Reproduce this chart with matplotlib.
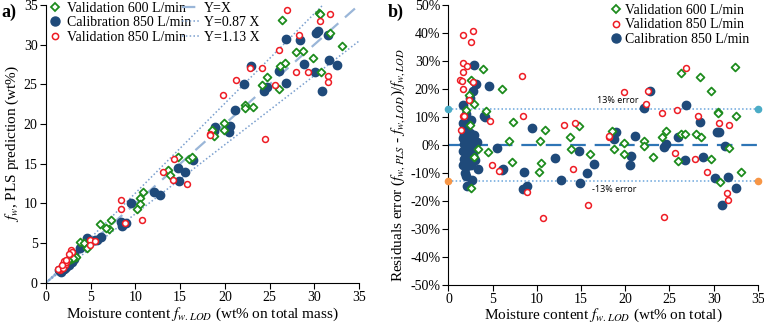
import matplotlib
matplotlib.use("Agg")
import matplotlib.pyplot as plt
from matplotlib.lines import Line2D
import matplotlib.ticker as mticker

plt.rcParams['font.family'] = ['Liberation Serif', 'DejaVu Serif']
plt.rcParams['mathtext.fontset'] = 'stix'

# ----- colours -----
GREEN = '#1e8c1e'
BLUE = '#1f4a7a'
RED = '#ee1c24'
LINE_A = '#9ab6d8'
DOT_A = '#7a9fce'
ZERO_B = '#2e75b6'
DOT_B = '#6aa5dc'
CYAN = '#4bacc6'
ORANGE = '#f79646'

# ----- panel a: predicted vs LOD moisture (wt%) -----
green_a_x = [26.4, 30.5, 30.6, 31.7, 33.1, 28.0, 28.7, 29.8, 26.7, 26.2, 30.8, 24.7, 24.1, 26.1,
             22.2, 22.2, 23.2, 19.9, 19.9, 18.8, 18.6, 14.8, 16.0, 16.3, 13.7, 13.9, 10.9, 10.5,
             10.5, 10.2, 7.3, 7.1, 6.05, 6.7, 3.8, 4.3, 4.6, 3.4, 2.8, 3.0, 2.5, 2.2]
green_a_y = [33.1, 34.0, 33.8, 31.5, 29.8, 29.1, 29.2, 28.3, 27.7, 27.3, 26.6, 25.9, 24.9, 24.4,
             22.4, 22.0, 22.2, 20.1, 19.3, 18.5, 19.2, 15.9, 15.6, 15.9, 14.2, 13.6, 11.5, 10.7,
             9.9, 9.3, 7.9, 6.8, 7.4, 6.9, 5.1, 5.0, 4.4, 3.3, 3.0, 3.2, 2.9, 2.5]

blue_a_x = [30.4, 30.2, 31.5, 26.8, 28.4, 28.9, 31.6, 32.5, 30.1, 26.0, 22.9, 22.1, 26.8, 24.7,
            24.4, 30.9, 21.1, 18.9, 18.75, 20.6, 20.5, 16.4, 14.8, 15.6, 14.9, 12.1, 12.8, 9.5,
            8.4, 9.0, 8.5, 6.2, 4.6, 5.5, 5.7, 3.8, 4.0,
            1.6, 1.8, 2.0, 2.2, 2.4, 2.6, 2.8, 3.0, 2.5, 2.1, 1.9, 2.3, 2.7, 3.2, 2.9, 1.7, 2.0,
            2.6, 3.1, 1.5]
blue_a_y = [31.7, 31.5, 31.2, 30.7, 30.6, 27.6, 28.0, 27.4, 26.6, 26.7, 27.3, 25.0, 25.2, 24.7,
            24.1, 24.2, 21.8, 19.6, 19.1, 19.8, 19.0, 15.5, 14.5, 14.0, 12.8, 11.5, 11.1, 10.1,
            7.7, 7.6, 7.2, 5.8, 5.6, 5.4, 5.4, 4.4, 4.6,
            1.5, 1.6, 1.8, 2.0, 2.3, 2.7, 3.2, 3.5, 2.4, 1.9, 1.7, 2.2, 3.0, 3.6, 2.6, 1.4, 2.1,
            2.2, 3.0, 1.6]

red_a_x = [26.9, 31.7, 30.6, 28.3, 26.0, 27.9, 29.3, 31.5, 31.5, 22.8, 24.2, 21.2, 25.6, 19.8,
           24.5, 18.3, 18.3, 14.3, 13.1, 14.2, 15.8, 8.4, 8.4, 10.7, 8.9, 4.9, 4.9, 5.5,
           1.6, 1.8, 1.9, 2.0, 1.7, 1.5, 2.8, 2.7, 2.9, 2.6, 2.1, 2.2, 1.4, 1.9, 2.3, 1.8]
red_a_y = [34.4, 33.9, 33.0, 31.2, 29.3, 26.5, 26.5, 26.0, 25.3, 27.1, 27.0, 25.5, 24.9, 23.6,
           18.1, 18.8, 18.6, 15.6, 14.0, 13.0, 12.5, 10.5, 9.3, 7.9, 7.5, 5.4, 4.8, 5.3,
           1.6, 2.0, 2.4, 2.8, 1.9, 1.8, 4.2, 3.7, 3.9, 3.6, 2.2, 2.6, 1.7, 1.9, 2.9, 2.3]

# ----- panel b: relative residuals (%) -----
green_b_x = [3.9, 2.6, 6.0, 4.3, 2.9, 2.3, 2.0, 2.45, 7.3, 6.8, 10.4, 10.9, 13.8, 14.8, 13.9, 16.0,
             3.3, 4.5, 7.2, 10.5, 10.2, 2.9, 2.6, 18.5, 18.7, 19.9, 19.9, 22.1, 22.1, 23.1, 24.1,
             24.6, 26.3, 26.7, 28.0, 28.6, 26.0, 29.7, 31.7, 30.7, 33.1, 26.3, 28.4, 32.4, 29.7,
             30.5, 30.5, 32.5]
green_b_y = [27.2, 23.1, 20.0, 12.1, 14.8, 17.8, 12.7, 7.3, 8.1, 1.4, 1.4, 5.5, 2.8, 6.7, -1.4, -3.1,
             -1.4, -2.4, -6.1, -6.6, -9.6, -4.4, -15.3, 4.9, -1.4, 0.8, -3.1, 1.4, -0.4, -4.2, 2.9,
             4.9, 4.0, 4.0, 4.1, 2.8, -5.8, -4.9, -1.0, -13.3, -9.7, 25.7, 24.2, 27.9, 19.2,
             11.9, 11.4, 10.5]

red_b_x = [1.7, 2.8, 2.6, 1.7, 2.1, 1.6, 1.3, 1.5, 1.6, 8.3, 8.4, 4.7, 1.6, 1.8, 2.3, 2.8, 1.4,
           4.9, 5.7, 8.9, 10.7, 13.1, 14.3, 18.2, 18.2, 19.8, 22.6, 22.3, 14.1, 15.8, 26.9, 24.2,
           25.9, 28.2, 30.6, 31.7, 25.6, 27.9, 29.2, 31.5, 31.6, 24.4]
red_b_y = [39.4, 40.9, 37.0, 29.3, 28.1, 26.0, 23.4, 23.0, 20.0, 24.8, 10.3, 8.5, 10.5, 10.4, 16.2,
           22.6, 5.3, -7.3, -9.3, -16.7, -26.2, 7.1, 7.7, 2.9, 3.4, 18.8, 19.2, 14.7, -8.7, -21.5,
           27.5, 11.5, 12.7, 10.5, 7.9, 7.2, -2.8, -4.9, -9.7, -17.1, -19.8, -25.6]

blue_b_x = [2.9, 3.1, 4.6, 2.8, 2.4, 1.7, 4.0, 4.1, 9.5, 5.5, 6.2, 6.0, 8.5, 8.4, 8.9, 2.7, 2.15,
            1.9, 2.0, 1.7, 2.1, 2.6, 2.8,
            1.7, 1.9, 2.1, 1.8, 2.4, 2.9, 1.6, 2.2, 2.7, 3.2, 1.8, 2.3, 2.6, 1.7, 2.0, 2.4, 1.8,
            2.2, 3.0, 2.5, 2.0, 3.3,
            18.9, 18.7, 21.1, 14.8, 12.1, 16.5, 15.7, 20.6, 20.5, 12.7, 14.9, 22.1, 22.8, 26.9,
            28.4, 30.4, 30.6, 26.0, 24.4, 24.6, 31.3, 26.7, 28.8, 30.2, 31.6, 32.5, 30.9]
blue_b_y = [28.7, 21.8, 21.0, 19.2, 16.8, 14.4, 10.3, 10.0, 6.1, -1.2, -8.7, -9.1, -9.7, -15.6,
            -14.7, -12.5, -14.7, -9.9, -11.1, -7.0, -7.6, -7.3, -3.4,
            8.0, 6.5, 5.0, 3.8, 4.2, 3.5, 2.5, 2.0, 1.5, 1.0, 0.5, -0.5, -1.2, -2.0, -3.0, -4.0,
            -5.0, -5.5, -5.2, 9.0, 11.0, -8.5,
            4.6, 2.0, 3.4, -2.0, -4.8, -6.7, -9.9, -4.0, -7.2, -12.5, -13.7, 13.3, 19.2, 14.4,
            8.1, 4.6, 4.6, 2.8, -0.6, 0.2, -0.4, -5.4, -4.2, -11.7, -11.3, -15.5, -21.5]

ERR = 13  # +/- error band (%)
W, H = 764, 323

fig = plt.figure(figsize=(7.64, 3.23), dpi=100)
ax1 = fig.add_axes([0.060, 0.124, 0.410, 0.861])
ax2 = fig.add_axes([0.587, 0.118, 0.405, 0.866])

for ax in (ax1, ax2):
    ax.spines['top'].set_visible(False)
    ax.spines['right'].set_visible(False)
    ax.tick_params(direction='out', length=4, width=0.8, labelsize=10, pad=2)

# ----- panel a -----
ax1.plot([0, 35], [0, 35], ls=(0, (6, 4)), color=LINE_A, lw=1.6, zorder=1)
ax1.plot([0, 35], [0, 35 * 0.87], ls=(0, (1, 1.5)), color=DOT_A, lw=1.1, zorder=1)
ax1.plot([0, 35 / 1.13], [0, 35], ls=(0, (1, 1.5)), color=DOT_A, lw=1.1, zorder=1)
ax1.scatter(green_a_x, green_a_y, marker='D', s=16, facecolors='white', edgecolors=GREEN,
            linewidths=1.3, zorder=3)
ax1.scatter(blue_a_x, blue_a_y, marker='o', s=36, color=BLUE, zorder=2)
ax1.scatter(red_a_x, red_a_y, marker='o', s=18, facecolors='white', edgecolors=RED,
            linewidths=1.1, zorder=4)
ax1.set_xlim(0, 35)
ax1.set_ylim(0, 35)
ax1.xaxis.set_major_locator(mticker.MultipleLocator(5))
ax1.yaxis.set_major_locator(mticker.MultipleLocator(5))
ax1.set_xlabel(r'Moisture content $f_{w.LOD}$ (wt% on total mass)', fontsize=11, labelpad=1)
ax1.set_ylabel(r'$f_w$, PLS prediction (wt%)', fontsize=11, labelpad=2)

h_pts = [Line2D([], [], marker='D', ls='none', mfc='white', mec=GREEN, mew=1.3, ms=4.5),
         Line2D([], [], marker='o', ls='none', color=BLUE, ms=6.5),
         Line2D([], [], marker='o', ls='none', mfc='white', mec=RED, mew=1.1, ms=4.5)]
l_pts = ['Validation 600 L/min', 'Calibration 850 L/min', 'Validation 850 L/min']
leg1 = ax1.legend(h_pts, l_pts, loc='upper left', bbox_to_anchor=(42 / W, 1.012),
                  bbox_transform=fig.transFigure, frameon=False, fontsize=10,
                  handlelength=1.0, handletextpad=0.4, labelspacing=0.12, borderaxespad=0)
ax1.add_artist(leg1)
h_lines = [Line2D([], [], ls=(0, (6, 4)), color=LINE_A, lw=1.6),
           Line2D([], [], ls=(0, (1, 1.5)), color=DOT_A, lw=1.1),
           Line2D([], [], ls=(0, (1, 1.5)), color=DOT_A, lw=1.1)]
ax1.legend(h_lines, ['Y=X', 'Y=0.87 X', 'Y=1.13 X'], loc='upper left',
           bbox_to_anchor=(176 / W, 1.012), bbox_transform=fig.transFigure, frameon=False,
           fontsize=10, handlelength=1.3, handletextpad=0.3, labelspacing=0.12,
           borderaxespad=0)
fig.text(0.002, 0.99, 'a)', fontsize=13, fontweight='bold', va='top')

# ----- panel b -----
ax2.axhline(0, ls=(0, (7, 4)), color=ZERO_B, lw=1.6, zorder=1)
for v, c in ((ERR, CYAN), (-ERR, ORANGE)):
    ax2.plot([0, 35], [v, v], ls=(0, (1, 1.5)), color=DOT_B, lw=1.1, zorder=1)
    ax2.scatter([0, 35], [v, v], s=20, color=c, zorder=5, clip_on=False)
ax2.text(16.8, ERR + 1.3, '13% error', fontsize=6.5, family='Open Sans', ha='left', va='bottom')
ax2.text(16.2, -ERR - 1.3, '-13% error', fontsize=6.5, family='Open Sans', ha='left', va='top')
ax2.scatter(green_b_x, green_b_y, marker='D', s=16, facecolors='white', edgecolors=GREEN,
            linewidths=1.3, zorder=3)
ax2.scatter(red_b_x, red_b_y, marker='o', s=18, facecolors='white', edgecolors=RED,
            linewidths=1.1, zorder=4)
ax2.scatter(blue_b_x, blue_b_y, marker='o', s=36, color=BLUE, zorder=2)
ax2.set_xlim(0, 35)
ax2.set_ylim(-50, 50)
ax2.xaxis.set_major_locator(mticker.MultipleLocator(5))
ax2.yaxis.set_major_locator(mticker.MultipleLocator(10))
ax2.yaxis.set_major_formatter(mticker.FuncFormatter(lambda v, p: f'{v:.0f}%'))
ax2.set_xlabel(r'Moisture content $f_{w.LOD}$ (wt% on total)', fontsize=11, labelpad=0)
ax2.set_ylabel(r'Residuals error ($f_{w,PLS}$ - $f_{w,LOD}$)/$f_{w,LOD}$', fontsize=11,
               labelpad=2, y=0.43)

h_b = [h_pts[0], h_pts[2], h_pts[1]]
l_b = ['Validation 600 L/min', 'Validation 850 L/min', 'Calibration 850 L/min']
ax2.legend(h_b, l_b, loc='upper right', bbox_to_anchor=(1.0, 1.035), frameon=False,
           fontsize=10, handlelength=0.8, handletextpad=0.3, labelspacing=0.12,
           borderaxespad=0.2)
fig.text(0.507, 0.99, 'b)', fontsize=13, fontweight='bold', va='top')

fig.savefig('out.png', dpi=100)
